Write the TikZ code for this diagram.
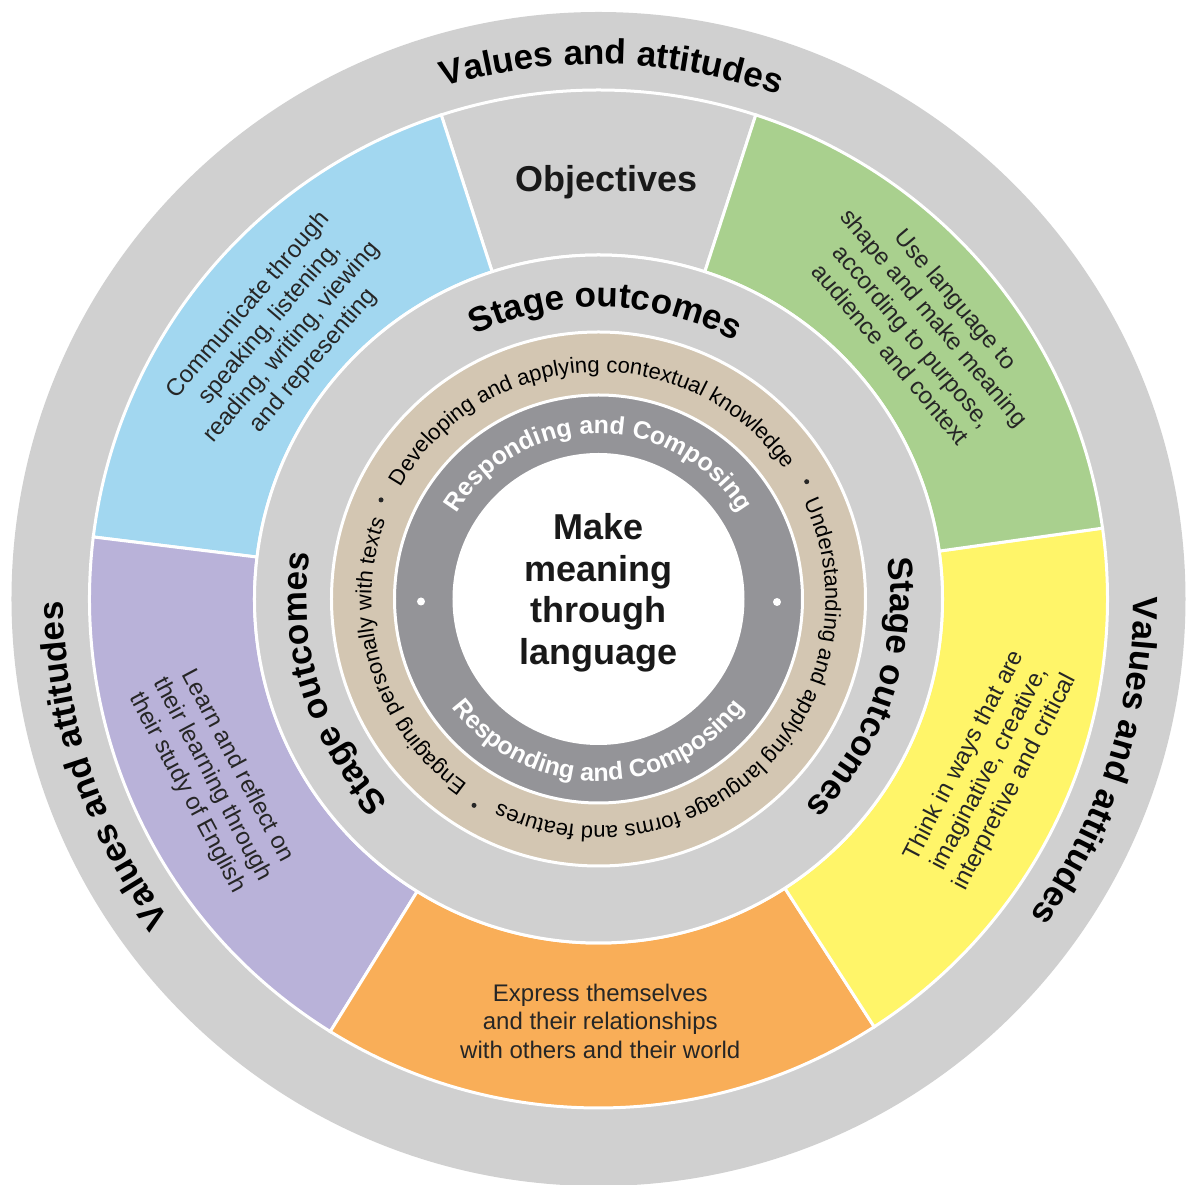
\documentclass[tikz,border=0pt]{standalone}
\usepackage{fontspec}
\setmainfont{Liberation Sans}
\usetikzlibrary{decorations.text}
\definecolor{ringgray}{HTML}{D0D0D0}
\definecolor{segblue}{HTML}{A2D7F0}
\definecolor{seggreen}{HTML}{A9D08E}
\definecolor{segyellow}{HTML}{FFF569}
\definecolor{segorange}{HTML}{F9AE58}
\definecolor{segpurple}{HTML}{B9B2D9}
\definecolor{beigering}{HTML}{D3C6B2}
\definecolor{darkring}{HTML}{949498}
\definecolor{txtdark}{HTML}{262626}
\newcommand\fbig{\fontsize{35}{40}\selectfont\bfseries}
\newcommand\fbeige{\fontsize{22}{26}\selectfont}
\newcommand\fresp{\fontsize{25}{30}\selectfont\bfseries}
\newcommand\fseg{\fontsize{24}{28.5}\selectfont}
\tikzset{
  sepline/.style={draw=white, line width=3pt},
  segtext/.style={font=\fseg, text=txtdark, align=center, inner sep=0pt},
  curvetext/.style={decorate, decoration={text along path, text align=center, text={#1}}},
  whitecurve/.style={decorate, decoration={text along path, text align=center, text color=white, text={#1}}},
}
\begin{document}
\begin{tikzpicture}[x=1pt,y=1pt]
\fill[white] (-598.5,-586) rectangle (590.5,599);
\useasboundingbox (-598.5,-586) rectangle (590.5,599);
% outer ring
\fill[ringgray] (0,0) circle[radius=587pt];
% segments
\path[sepline, fill=ringgray] (72:344pt) arc[start angle=72, end angle=108, radius=344pt] -- (108:509pt) arc[start angle=108, end angle=72, radius=509pt] -- cycle;
\path[sepline, fill=segblue] (108:344pt) arc[start angle=108, end angle=173, radius=344pt] -- (173:509pt) arc[start angle=173, end angle=108, radius=509pt] -- cycle;
\path[sepline, fill=segpurple] (173:344pt) arc[start angle=173, end angle=238.2, radius=344pt] -- (238.2:509pt) arc[start angle=238.2, end angle=173, radius=509pt] -- cycle;
\path[sepline, fill=segorange] (238.2:344pt) arc[start angle=238.2, end angle=302.8, radius=344pt] -- (302.8:509pt) arc[start angle=302.8, end angle=238.2, radius=509pt] -- cycle;
\path[sepline, fill=segyellow] (302.8:344pt) arc[start angle=302.8, end angle=368, radius=344pt] -- (368:509pt) arc[start angle=368, end angle=302.8, radius=509pt] -- cycle;
\path[sepline, fill=seggreen] (8:344pt) arc[start angle=8, end angle=72, radius=344pt] -- (72:509pt) arc[start angle=72, end angle=8, radius=509pt] -- cycle;
% inner rings
\path[sepline, fill=ringgray] (0,0) circle[radius=344pt];
\path[sepline, fill=beigering] (0,0) circle[radius=267pt];
\path[sepline, fill=darkring] (0,0) circle[radius=204pt];
\fill[white] (0,0) circle[radius=146pt];
% Values and attitudes
\path[curvetext={|\fbig|Values and attitudes}] (128.6:535pt) arc[start angle=128.6, end angle=48.6, radius=535pt];
\path[curvetext={|\fbig|Values and attitudes}] (238.5:535pt) arc[start angle=238.5, end angle=158.5, radius=535pt];
\path[curvetext={|\fbig|Values and attitudes}] (22:535pt) arc[start angle=22, end angle=-58, radius=535pt];
% Stage outcomes
\path[curvetext={|\fbig|Stage outcomes}] (133.6:292pt) arc[start angle=133.6, end angle=43.6, radius=292pt];
\path[curvetext={|\fbig|Stage outcomes}] (242.5:292pt) arc[start angle=242.5, end angle=152.5, radius=292pt];
\path[curvetext={|\fbig|Stage outcomes}] (26.5:292pt) arc[start angle=26.5, end angle=-63.5, radius=292pt];
% beige ring
\path[curvetext={|\fbeige|Developing and applying contextual knowledge}] (162.6:227pt) arc[start angle=162.6, end angle=22.6, radius=227pt];
\path[curvetext={|\fbeige|Understanding and applying language forms and features}] (34.7:227pt) arc[start angle=34.7, end angle=-125.3, radius=227pt];
\path[curvetext={|\fbeige|Engaging personally with texts}] (242.25:227pt) arc[start angle=242.25, end angle=152.25, radius=227pt];
\fill[txtdark] (155.5:239pt) circle[radius=2.5pt];
\fill[txtdark] (29.4:239pt) circle[radius=2.5pt];
\fill[txtdark] (238.9:241pt) circle[radius=2.5pt];
% dark ring
\path[whitecurve={|\fresp|Responding and Composing}] (165:165.5pt) arc[start angle=165, end angle=15, radius=165.5pt];
\path[whitecurve={|\fresp|Responding and Composing}] (195:182pt) arc[start angle=195, end angle=345, radius=182pt];
\fill[white] (-177.5,-2.5) circle[radius=4pt];
\fill[white] (178.5,-3) circle[radius=4pt];
% labels
\node[font=\fontsize{36}{40}\selectfont\bfseries, text=black!90, anchor=base, inner sep=0pt] (objectives) at (8.2,407.3) {Objectives};
\node[font=\fontsize{36}{41.5}\selectfont\bfseries, text=black!90, align=center, inner sep=0pt] (core) at (0,6.1) {Make\\meaning\\through\\language};
\node[segtext, rotate=49.5] (communicate) at (-317.5,266) {Communicate through\\speaking, listening,\\reading, writing, viewing\\and representing};
\node[segtext, rotate=-49.8] (uselang) at (325.3,272.4) {Use language to\\shape and make meaning\\according to purpose,\\audience and context};
\node[segtext, rotate=62.5] (think) at (391.5,-170) {Think in ways that are\\imaginative, creative,\\interpretive and critical};
\node[segtext, rotate=-62] (learn) at (-386.5,-180.4) {Learn and reflect on\\their learning through\\their study of English};
\node[segtext] (express) at (1.8,-422.4) {Express themselves\\and their relationships\\with others and their world};
\end{tikzpicture}
\end{document}
